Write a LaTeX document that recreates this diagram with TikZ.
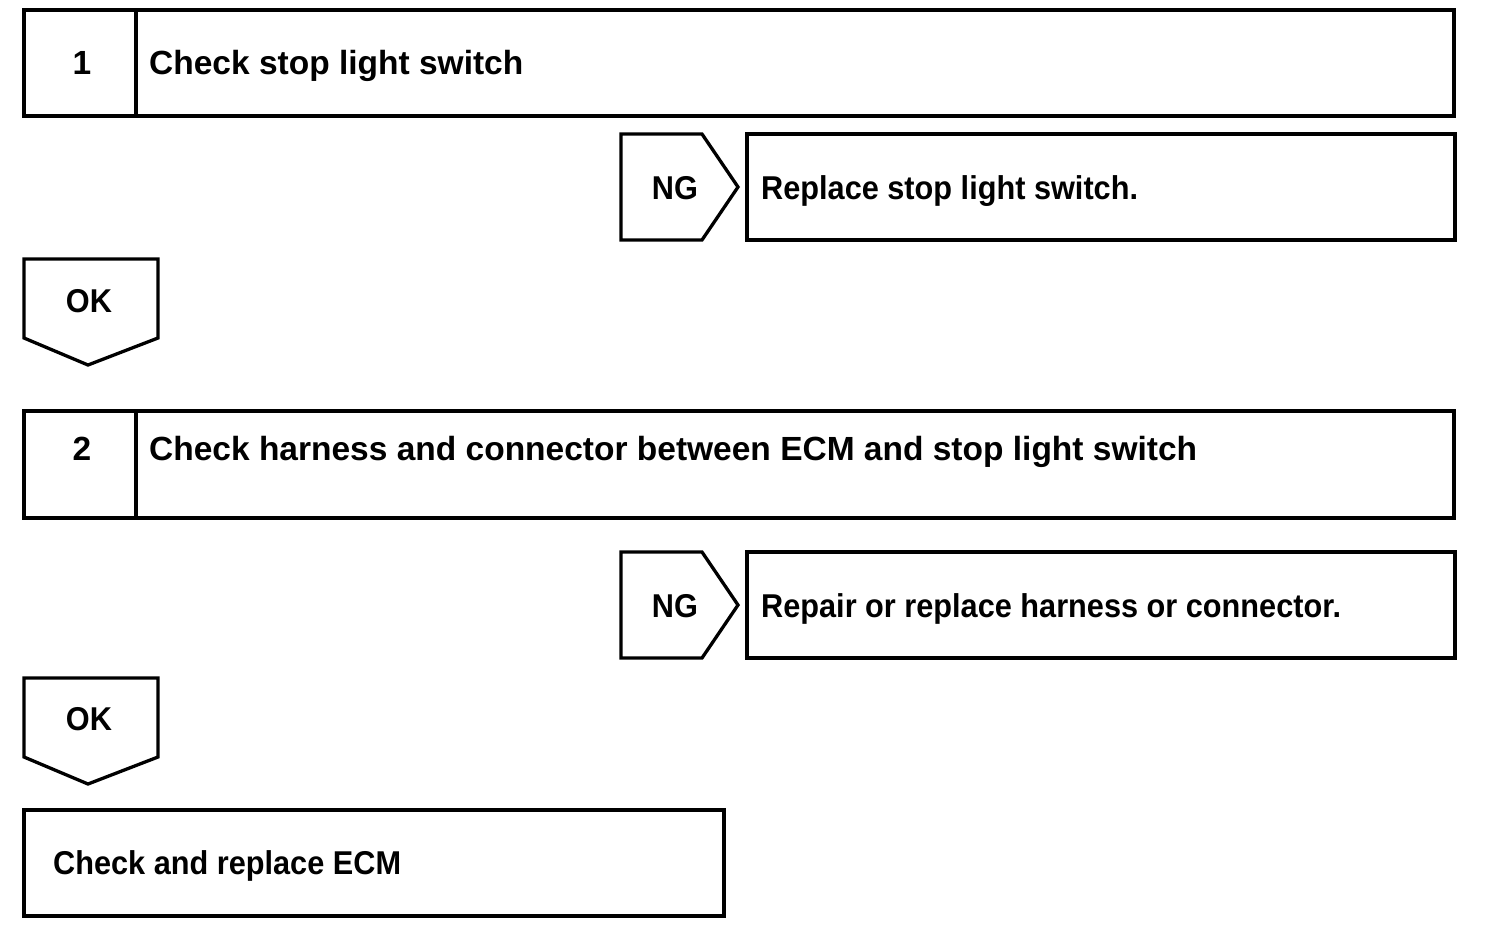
\documentclass[tikz,border=0pt]{standalone}
\usepackage{fontspec}
\setmainfont{Liberation Sans}
\newfontfamily\condfont{Liberation Sans}[FakeStretch=0.93]
\begin{document}
\begin{tikzpicture}[x=1pt,y=-1pt,
  frame/.style={draw=black,line width=3.3pt,line join=miter},
  lbl/.style={inner sep=0pt,anchor=base,font=\bfseries\fontsize{33.5}{40}\selectfont},
  lblw/.style={lbl,anchor=base west},
  clbl/.style={inner sep=0pt,anchor=base,font=\condfont\bfseries\fontsize{33}{40}\selectfont},
  clblw/.style={clbl,anchor=base west}]
\useasboundingbox (0,0) rectangle (1504,938);
% step 1
\draw[frame] (24,10) rectangle (1454,116);
\draw[frame] (136,10) -- (136,116);
\node[lbl] (n1) at (82,74) {1};
\node[lblw] (t1) at (149,74) {Check stop light switch};
% NG 1
\draw[frame] (621,134) -- (702,134) -- (738,187) -- (702,240) -- (621,240) -- cycle;
\node[clbl] (ng1) at (675,199) {NG};
\draw[frame] (747,134) rectangle (1455,240);
\node[clblw] (r1) at (761,199) {Replace stop light switch.};
% OK 1
\draw[frame] (24,259) -- (158,259) -- (158,338) -- (88,365) -- (24,338) -- cycle;
\node[clbl] (ok1) at (89,312) {OK};
% step 2
\draw[frame] (24,411) rectangle (1454,518);
\draw[frame] (136,411) -- (136,518);
\node[lbl] (n2) at (82,460) {2};
\node[lblw] (t2) at (149,460) {Check harness and connector between ECM and stop light switch};
% NG 2
\draw[frame] (621,552) -- (702,552) -- (738,605) -- (702,658) -- (621,658) -- cycle;
\node[clbl] (ng2) at (675,617) {NG};
\draw[frame] (747,552) rectangle (1455,658);
\node[clblw] (r2) at (761,617) {Repair or replace harness or connector.};
% OK 2
\draw[frame] (24,678) -- (158,678) -- (158,757) -- (88,784) -- (24,757) -- cycle;
\node[clbl] (ok2) at (89,730) {OK};
% final
\draw[frame] (24,810) rectangle (724,916);
\node[clblw] (f) at (53,874) {Check and replace ECM};
\end{tikzpicture}
\end{document}
